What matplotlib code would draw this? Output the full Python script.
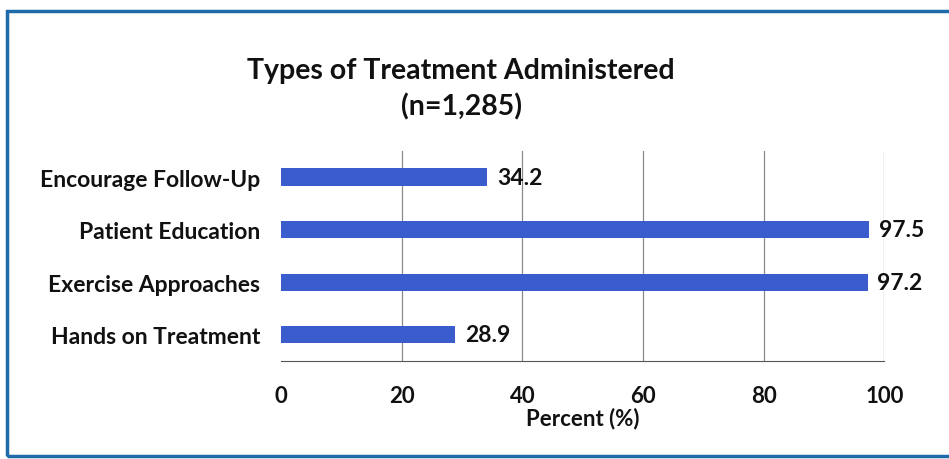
import matplotlib.pyplot as plt
from matplotlib.patches import Rectangle

# data
categories = ['Hands on Treatment', 'Exercise Approaches',
              'Patient Education', 'Encourage Follow-Up']
percent = [28.9, 97.2, 97.5, 34.2]
xticks = [0, 20, 40, 60, 80, 100]

plt.rcParams['font.family'] = ['Lato', 'DejaVu Sans']

fig = plt.figure(figsize=(9.49, 4.6), dpi=100)
ax = fig.add_axes([0.296, 0.213, 0.636, 0.457])

ypos = range(len(categories))
ax.barh(ypos, percent, height=0.33, color='#3a5ccc', zorder=3)
for y, v in zip(ypos, percent):
    ax.text(v + 1.6, y, f'{v:.1f}', va='center', ha='left',
            fontsize=16.5, fontweight='bold', color='#111111')

ax.set_xlim(0, 100)
ax.set_ylim(-0.5, 3.5)
ax.set_yticks(list(ypos))
ax.set_yticklabels(categories, fontsize=16.5, fontweight='bold', color='#111111')
ax.set_xticks(xticks)
ax.set_xticklabels([str(t) for t in xticks], fontsize=16,
                   fontweight='bold', color='#111111')
ax.tick_params(axis='both', length=0)
ax.tick_params(axis='y', pad=15)
ax.tick_params(axis='x', pad=17)
ax.grid(axis='x', color='#8a8a8a', linewidth=0.9, zorder=0)
ax.xaxis.get_gridlines()[0].set_visible(False)
for s in ['top', 'right', 'left']:
    ax.spines[s].set_visible(False)
ax.spines['bottom'].set_color('#555555')
ax.set_xlabel('Percent (%)', fontsize=16, fontweight='bold',
              color='#111111', labelpad=1)

fig.text(0.486, 0.845, 'Types of Treatment Administered', ha='center',
         va='center', fontsize=20.5, fontweight='bold', color='#111111')
fig.text(0.486, 0.768, '(n=1,285)', ha='center', va='center',
         fontsize=20.5, fontweight='bold', color='#111111')

# outer frame
fig.patches.append(Rectangle((0.007, 0.006), 1.05, 0.968,
                             transform=fig.transFigure, fill=False,
                             edgecolor='#1f6aa8', linewidth=2.5))

fig.savefig('out.png', dpi=100)
